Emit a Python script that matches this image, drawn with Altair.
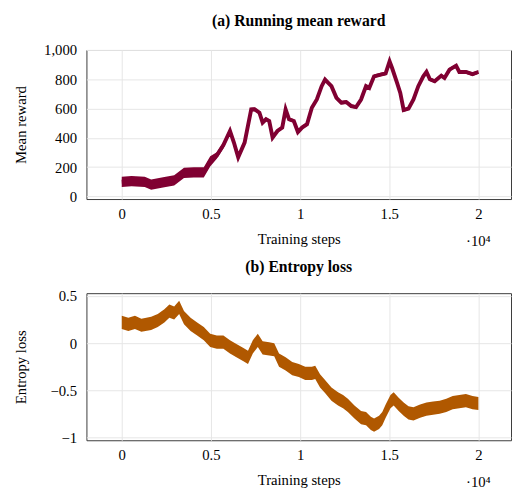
import altair as alt
import pandas as pd

# ---- data ----
reward_steps = [0, 550, 1290, 1650, 2390, 2940, 3490, 4040, 4600, 4960,
                5330, 5700, 6070, 6290, 6530, 6890, 7260, 7450, 7720, 7900,
                8090, 8270, 8460, 8730, 9000, 9190, 9380, 9650, 9880, 10110,
                10390, 10660, 10940, 11210, 11400, 11580, 11760, 12040, 12310, 12590,
                12870, 13140, 13420, 13700, 13880, 14150, 14520, 14800, 15020, 15160,
                15440, 15620, 15810, 16080, 16360, 16630, 16910, 17090, 17280, 17550,
                17920, 18100, 18380, 18750, 18930, 19300, 19670, 20000]
reward_mean = [100, 105, 100, 80, 97, 110, 160, 165, 165, 240,
               280, 350, 447, 368, 267, 368, 594, 595, 572, 504,
               527, 515, 402, 447, 470, 594, 527, 515, 440, 470,
               493, 606, 662, 753, 798, 775, 753, 673, 640, 645,
               617, 610, 662, 753, 741, 820, 832, 840, 922, 877,
               775, 707, 590, 600, 662, 753, 820, 850, 800, 786,
               825, 809, 866, 893, 850, 850, 835, 850]
reward_spread = [35, 35, 35, 35, 35, 35, 35, 35, 35, 35,
                 22, 22, 22, 22, 22, 22, 12, 12, 12, 12,
                 12, 12, 12, 12, 12, 12, 12, 12, 12, 12,
                 12, 12, 12, 12, 12, 12, 12, 12, 12, 12,
                 12, 12, 12, 12, 12, 12, 12, 12, 12, 12,
                 12, 12, 12, 12, 12, 12, 12, 12, 12, 12,
                 12, 12, 12, 12, 12, 12, 12, 12]

entropy_steps = [0, 370, 740, 1100, 1650, 2020, 2390, 2670, 2940, 3220,
                 3490, 3860, 4230, 4600, 4960, 5330, 5700, 6070, 6430, 6800,
                 7080, 7350, 7630, 7900, 8270, 8550, 8820, 9190, 9560, 9930,
                 10290, 10660, 10850, 11120, 11400, 11760, 12130, 12410, 12680, 13050,
                 13420, 13700, 13970, 14150, 14430, 14610, 14800, 15070, 15250, 15530,
                 15810, 16080, 16360, 16730, 17090, 17460, 17830, 18200, 18560, 18930,
                 19300, 19670, 20000]
entropy_mean = [0.22, 0.20, 0.22, 0.19, 0.21, 0.24, 0.29, 0.34, 0.32, 0.38,
                0.27, 0.20, 0.15, 0.10, 0.03, 0.01, 0.01, -0.04, -0.08, -0.12,
                -0.15, -0.04, 0.03, -0.05, -0.06, -0.07, -0.18, -0.22, -0.27, -0.29,
                -0.32, -0.32, -0.31, -0.40, -0.46, -0.54, -0.59, -0.62, -0.66, -0.73,
                -0.79, -0.80, -0.85, -0.87, -0.84, -0.80, -0.72, -0.62, -0.59, -0.65,
                -0.70, -0.74, -0.75, -0.72, -0.70, -0.69, -0.68, -0.66, -0.63, -0.62,
                -0.61, -0.63, -0.64]
entropy_spread = [0.07] * len(entropy_steps)

x_ticks = [0, 5000, 10000, 15000, 20000]
reward_ticks = [0, 200, 400, 600, 800, 1000]
entropy_ticks = [-1, -0.5, 0, 0.5]

FONT = "Liberation Serif"
REWARD_COLOR = "#800032"
ENTROPY_COLOR = "#B05800"

reward_df = pd.DataFrame({
    "step": reward_steps,
    "mean": reward_mean,
    "lo": [m - s for m, s in zip(reward_mean, reward_spread)],
    "hi": [m + s for m, s in zip(reward_mean, reward_spread)],
})
entropy_df = pd.DataFrame({
    "step": entropy_steps,
    "mean": entropy_mean,
    "lo": [m - s for m, s in zip(entropy_mean, entropy_spread)],
    "hi": [m + s for m, s in zip(entropy_mean, entropy_spread)],
})

W = 433


def panel(df, color, title, ytitle, ydomain, yticks, yformat, height, line_width,
          ytitle_pad):
    xscale = alt.Scale(domain=[-1980, 21830], nice=False, zero=False)
    xaxis = alt.Axis(values=x_ticks, labelExpr="'' + datum.value / 10000",
                     title="Training steps", ticks=False, tickSize=0,
                     domain=False, labelPadding=8, titlePadding=10,
                     labelOverlap=False)
    yscale = alt.Scale(domain=ydomain, nice=False, zero=False)
    yaxis = alt.Axis(values=yticks, format=yformat, title=ytitle, ticks=False,
                     tickSize=0, domain=False, labelPadding=10,
                     titlePadding=ytitle_pad, labelOverlap=False)
    band = alt.Chart(df).mark_area(color=color, opacity=1).encode(
        x=alt.X("step:Q", scale=xscale, axis=xaxis),
        y=alt.Y("lo:Q", scale=yscale, axis=yaxis),
        y2="hi:Q",
    )
    layers = [band]
    if line_width > 0:
        layers.append(
            alt.Chart(df).mark_line(color=color, strokeWidth=line_width).encode(
                x=alt.X("step:Q", scale=xscale, axis=xaxis),
                y=alt.Y("mean:Q", scale=yscale, axis=yaxis),
            )
        )
    exp_text = alt.Chart(pd.DataFrame({"t": ["·10⁴"]})).mark_text(
        font=FONT, fontSize=15, color="black", baseline="middle"
    ).encode(x=alt.datum(20000), y=alt.value(height + 43), text="t:N")
    layers.append(exp_text)
    return alt.layer(*layers).properties(
        width=W, height=height,
        title=alt.TitleParams(title, font=FONT, fontSize=16, fontWeight="bold",
                              anchor="middle", frame="group", offset=14, color="black"),
    )


top = panel(reward_df, REWARD_COLOR, "(a) Running mean reward", "Mean reward",
            [-18, 1000], reward_ticks, ",d", 152, 4, 15)
bottom = panel(entropy_df, ENTROPY_COLOR, "(b) Entropy loss", "Entropy loss",
               [-1.03, 0.53], entropy_ticks, ".1~f", 150, 0, 22)

chart = alt.vconcat(top, bottom, spacing=9).properties(
    padding={"left": 5, "top": 0, "right": 0, "bottom": 0}
).configure_view(
    stroke="#3a3a3a", strokeWidth=1
).configure_axis(
    labelFont=FONT, titleFont=FONT, labelFontSize=15, titleFontSize=15,
    titleFontWeight="normal", labelColor="black", titleColor="black",
    gridColor="#e6e6e6", gridWidth=1,
)

chart.save("out.html", embed_options={"renderer": "svg", "actions": False})
